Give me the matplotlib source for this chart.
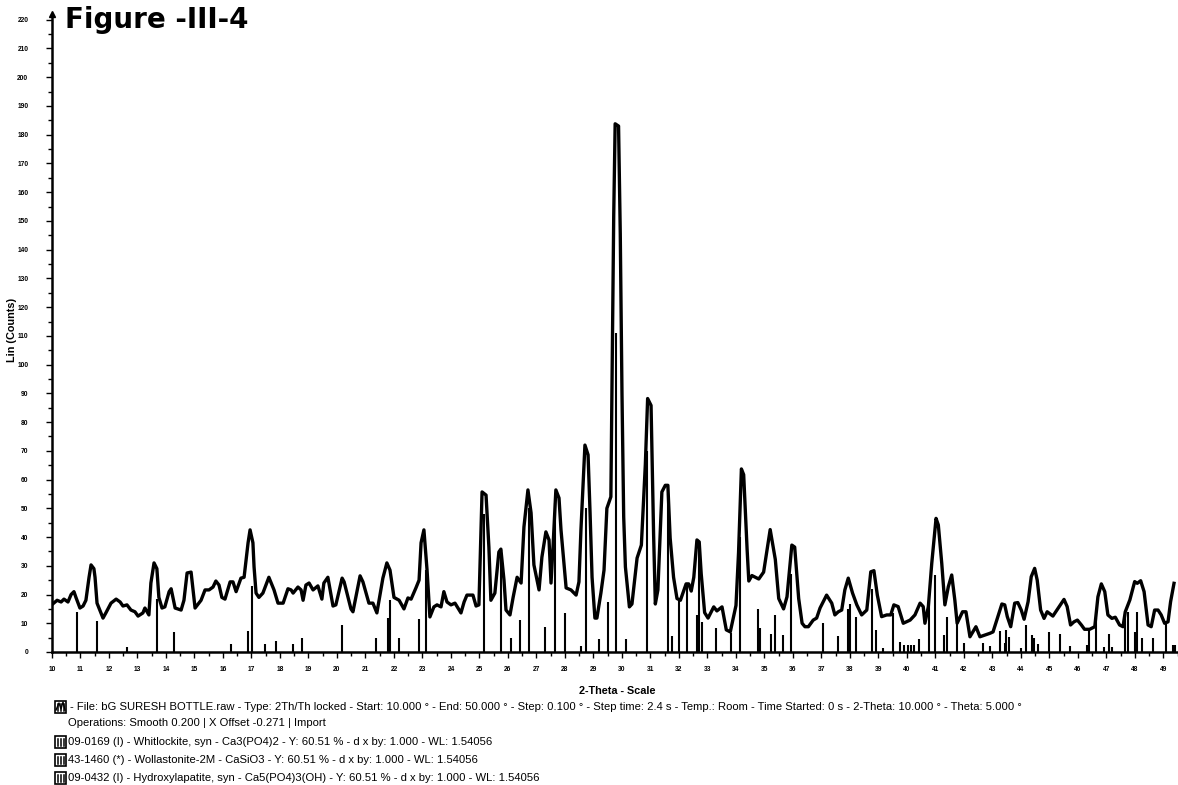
import numpy as np
import matplotlib
matplotlib.use('Agg')
import matplotlib.pyplot as plt
from matplotlib.patches import Rectangle

plt.rcParams['font.family'] = ['Liberation Sans', 'DejaVu Sans']

# measured pattern (2-theta in degrees, intensity in counts)
two_theta = [
    10.00, 10.18, 10.32, 10.42, 10.56, 10.67, 10.77, 10.84, 10.98, 11.09,
    11.19, 11.30, 11.37, 11.47, 11.51, 11.58, 11.79, 11.89, 12.07, 12.25,
    12.39, 12.49, 12.63, 12.77, 12.91, 13.02, 13.19, 13.26, 13.40, 13.47,
    13.58, 13.68, 13.75, 13.86, 13.96, 14.11, 14.18, 14.32, 14.53, 14.63,
    14.74, 14.88, 15.02, 15.23, 15.37, 15.51, 15.65, 15.75, 15.86, 15.96,
    16.07, 16.25, 16.35, 16.46, 16.63, 16.74, 16.88, 16.95, 17.05, 17.09,
    17.16, 17.26, 17.40, 17.61, 17.79, 17.93, 18.11, 18.28, 18.39, 18.46,
    18.63, 18.74, 18.81, 18.91, 19.02, 19.16, 19.33, 19.47, 19.54, 19.68,
    19.86, 19.96, 20.18, 20.25, 20.49, 20.56, 20.81, 20.91, 21.12, 21.26,
    21.40, 21.61, 21.75, 21.86, 22.00, 22.18, 22.35, 22.49, 22.60, 22.77,
    22.88, 22.95, 23.05, 23.16, 23.26, 23.40, 23.51, 23.65, 23.75, 23.86,
    24.00, 24.14, 24.35, 24.46, 24.56, 24.77, 24.88, 24.98, 25.09, 25.23,
    25.33, 25.40, 25.54, 25.68, 25.75, 25.86, 25.93, 26.07, 26.18, 26.32,
    26.46, 26.56, 26.70, 26.81, 26.91, 27.09, 27.19, 27.33, 27.44, 27.51,
    27.58, 27.68, 27.79, 27.86, 28.04, 28.21, 28.39, 28.49, 28.56, 28.70,
    28.81, 28.88, 28.95, 29.05, 29.12, 29.26, 29.37, 29.47, 29.61, 29.71,
    29.76, 29.88, 29.94, 30.00, 30.06, 30.12, 30.26, 30.35, 30.53, 30.68,
    30.82, 30.90, 31.02, 31.11, 31.17, 31.26, 31.40, 31.52, 31.61, 31.69,
    31.81, 31.93, 32.05, 32.16, 32.25, 32.34, 32.43, 32.52, 32.63, 32.71,
    32.78, 32.90, 33.02, 33.22, 33.33, 33.51, 33.66, 33.80, 34.00, 34.09,
    34.19, 34.27, 34.39, 34.45, 34.56, 34.80, 34.97, 35.20, 35.38, 35.50,
    35.67, 35.79, 35.96, 36.06, 36.20, 36.32, 36.42, 36.54, 36.71, 36.83,
    36.95, 37.18, 37.36, 37.47, 37.59, 37.71, 37.82, 37.94, 38.09, 38.24,
    38.41, 38.59, 38.73, 38.84, 38.96, 39.11, 39.29, 39.43, 39.54, 39.69,
    39.87, 40.11, 40.28, 40.46, 40.57, 40.63, 40.75, 40.87, 41.02, 41.10,
    41.22, 41.33, 41.45, 41.57, 41.68, 41.76, 41.95, 42.07, 42.21, 42.42,
    42.56, 42.74, 42.91, 43.02, 43.19, 43.33, 43.43, 43.52, 43.64, 43.78,
    43.89, 44.01, 44.11, 44.25, 44.36, 44.48, 44.57, 44.69, 44.81, 44.92,
    45.12, 45.30, 45.51, 45.62, 45.74, 45.86, 45.98, 46.12, 46.23, 46.41,
    46.59, 46.70, 46.82, 46.94, 47.05, 47.19, 47.31, 47.46, 47.58, 47.66,
    47.82, 47.99, 48.08, 48.20, 48.32, 48.46, 48.57, 48.69, 48.81, 48.92,
    49.04, 49.16, 49.25, 49.37,
]
counts = [
    16.5, 18.0, 17.4, 18.4, 17.4, 20.0, 21.0, 19.0, 15.3, 16.0,
    18.0, 26.0, 30.3, 29.0, 26.0, 17.0, 11.8, 13.6, 17.0, 18.4,
    17.4, 16.0, 16.4, 14.6, 14.0, 12.5, 13.6, 15.3, 12.9, 24.0,
    31.0, 29.0, 19.0, 15.3, 15.7, 21.0, 22.0, 15.3, 14.6, 18.0,
    27.5, 27.8, 15.3, 18.0, 21.6, 21.6, 22.6, 24.7, 23.3, 19.0,
    18.4, 24.4, 24.4, 21.0, 25.7, 26.0, 38.0, 42.5, 38.0, 29.6,
    20.5, 19.0, 20.5, 26.0, 21.6, 17.0, 17.0, 22.0, 21.6, 20.5,
    22.6, 21.6, 18.0, 23.3, 24.0, 21.6, 23.0, 18.4, 24.0, 26.0,
    16.0, 16.4, 25.7, 24.4, 15.0, 14.0, 26.5, 24.4, 17.0, 17.0,
    13.6, 25.7, 31.0, 28.5, 19.0, 18.0, 15.0, 18.8, 18.4, 22.3,
    25.0, 38.0, 42.5, 28.5, 12.2, 15.7, 16.4, 15.7, 21.0, 17.4,
    16.4, 17.0, 13.6, 17.4, 19.8, 19.8, 16.0, 16.4, 55.7, 54.6,
    36.5, 18.0, 20.5, 34.8, 35.8, 25.0, 14.6, 12.9, 19.0, 26.0,
    24.0, 43.5, 56.4, 48.4, 30.3, 21.6, 33.0, 41.8, 39.0, 24.0,
    36.5, 56.4, 53.6, 42.5, 22.3, 21.6, 19.8, 24.4, 42.5, 72.0,
    68.6, 48.4, 26.0, 11.8, 11.8, 20.5, 28.5, 50.0, 54.0, 151.7,
    183.8, 183.0, 145.5, 90.0, 47.0, 29.6, 15.7, 16.7, 32.7, 37.2,
    65.4, 88.2, 85.8, 40.7, 16.7, 21.6, 55.7, 58.0, 58.0, 39.7,
    26.0, 18.6, 18.0, 21.2, 23.7, 23.7, 21.2, 26.0, 39.0, 38.3,
    27.2, 13.7, 11.8, 15.7, 14.3, 15.7, 7.7, 7.0, 16.2, 34.6,
    63.7, 61.7, 35.8, 24.7, 26.6, 25.4, 27.8, 42.6, 32.2, 18.6,
    15.0, 19.2, 37.2, 36.5, 18.6, 10.0, 8.8, 8.8, 11.1, 11.8,
    15.3, 19.8, 17.0, 12.9, 14.0, 14.6, 21.6, 25.7, 20.5, 16.4,
    12.9, 14.6, 27.9, 28.3, 19.8, 12.3, 12.9, 12.9, 16.4, 15.8,
    10.0, 11.1, 12.9, 17.0, 15.8, 10.0, 15.8, 30.9, 46.5, 44.2,
    30.9, 16.4, 22.7, 26.8, 18.0, 10.0, 14.0, 14.0, 5.3, 8.8,
    5.3, 5.9, 6.5, 7.0, 12.3, 16.7, 16.4, 12.3, 8.8, 17.0,
    17.2, 14.6, 11.4, 17.5, 26.2, 29.1, 25.0, 14.6, 11.7, 14.0,
    12.5, 15.2, 18.3, 15.8, 9.4, 10.5, 11.1, 9.4, 7.9, 7.9,
    8.8, 19.2, 23.7, 21.0, 12.9, 11.7, 12.1, 9.4, 8.8, 14.0,
    18.1, 24.5, 23.9, 24.8, 21.0, 9.4, 8.8, 14.6, 14.6, 12.9,
    10.0, 10.5, 17.5, 23.9,
]

# reference pattern lines (whitlockite, wollastonite-2M, hydroxylapatite)
ref_2theta = [
    10.89, 11.57, 12.62, 13.67, 14.28, 16.29, 16.88, 17.02, 17.49, 17.86,
    18.47, 18.77, 20.18, 21.37, 21.78, 21.86, 22.16, 22.87, 23.11, 25.17,
    25.75, 26.10, 26.41, 26.75, 27.29, 27.66, 28.00, 28.55, 28.75, 29.19,
    29.51, 29.80, 30.14, 30.87, 31.60, 31.77, 32.00, 32.27, 32.63, 32.72,
    32.80, 33.29, 33.82, 34.13, 34.78, 34.84, 35.23, 35.37, 35.66, 35.93,
    37.06, 37.59, 37.94, 38.00, 38.21, 38.76, 38.91, 39.15, 39.50, 39.75,
    39.89, 40.02, 40.14, 40.25, 40.42, 40.78, 41.00, 41.31, 41.39, 41.74,
    42.01, 42.68, 42.93, 43.25, 43.43, 43.48, 43.57, 44.01, 44.19, 44.39,
    44.45, 44.60, 44.97, 45.36, 45.71, 46.33, 46.37, 46.64, 46.91, 47.08,
    47.19, 47.64, 47.75, 47.99, 48.06, 48.25, 48.63, 49.10, 49.35, 49.42,
]
ref_counts = [
    14.0, 10.9, 1.8, 18.3, 7.0, 2.8, 7.3, 23.0, 2.8, 3.8,
    2.8, 4.9, 9.4, 4.9, 11.8, 18.0, 4.9, 11.5, 28.5, 48.0,
    36.0, 4.9, 11.1, 50.0, 8.8, 52.0, 13.6, 2.0, 50.0, 4.5,
    17.5, 111.0, 4.5, 70.0, 55.0, 5.4, 18.0, 24.0, 13.0, 37.0,
    10.5, 8.3, 6.6, 40.0, 15.0, 8.3, 6.3, 12.9, 5.9, 27.0,
    10.2, 5.6, 15.0, 16.7, 12.3, 22.0, 7.7, 1.4, 13.6, 3.5,
    2.5, 2.5, 2.5, 2.5, 4.5, 18.0, 26.8, 5.9, 12.3, 10.0,
    3.3, 3.1, 2.1, 7.4, 3.0, 7.7, 5.1, 1.5, 9.4, 5.9,
    5.0, 2.8, 7.0, 6.3, 2.0, 2.4, 7.7, 11.7, 1.9, 6.3,
    1.7, 14.0, 14.0, 7.0, 14.0, 4.8, 4.8, 10.0, 2.5, 2.5,
]

x_labels = [str(v) for v in range(10, 50)]

legend_lines = [
    "- File: bG SURESH BOTTLE.raw - Type: 2Th/Th locked - Start: 10.000 \u00b0 - End: 50.000 \u00b0 - "
    "Step: 0.100 \u00b0 - Step time: 2.4 s - Temp.: Room - Time Started: 0 s - 2-Theta: 10.000 \u00b0 - Theta: 5.000 \u00b0",
    "Operations: Smooth 0.200 | X Offset -0.271 | Import",
    "09-0169 (I) - Whitlockite, syn - Ca3(PO4)2 - Y: 60.51 % - d x by: 1.000 - WL: 1.54056",
    "43-1460 (*) - Wollastonite-2M - CaSiO3 - Y: 60.51 % - d x by: 1.000 - WL: 1.54056",
    "09-0432 (I) - Hydroxylapatite, syn - Ca5(PO4)3(OH) - Y: 60.51 % - d x by: 1.000 - WL: 1.54056",
]

W, H = 1178, 785
fig = plt.figure(figsize=(W / 100, H / 100), dpi=100)
fig.patch.set_facecolor('white')
ax = fig.add_axes([52 / W, 133 / H, 1126 / W, 638 / H])

ax.vlines(ref_2theta, 0, ref_counts, color='black', lw=1.5)
ax.plot(two_theta, counts, color='black', lw=2.4, solid_joinstyle='round')

ax.set_xlim(10, 49.51)
ax.set_ylim(0, 222)

for side in ['top', 'right']:
    ax.spines[side].set_visible(False)
for side in ['left', 'bottom']:
    ax.spines[side].set_linewidth(1.8)
# small arrow head on top of the y axis
ax.plot([10], [222], marker='^', color='black', markersize=5, clip_on=False)

ax.set_xticks(np.arange(10, 50, 1))
ax.set_xticklabels(x_labels)
ax.set_xticks(np.arange(10, 49.6, 0.5), minor=True)
ax.set_yticks(np.arange(0, 221, 10))
ax.set_yticks(np.arange(0, 221, 5), minor=True)
ax.tick_params(axis='both', which='both', direction='out', width=1.0, colors='black')
ax.tick_params(axis='both', which='major', length=4, labelsize=4.8)
ax.tick_params(axis='both', which='minor', length=3)
ax.tick_params(axis='y', which='major', pad=13)
ax.tick_params(axis='x', which='major', pad=6)
for lab in ax.get_xticklabels() + ax.get_yticklabels():
    lab.set_fontweight('bold')

fig.text(617 / W, 1 - 691 / H, '2-Theta - Scale', ha='center', va='center',
         fontsize=7.8, fontweight='bold')
fig.text(12 / W, 1 - 330 / H, 'Lin (Counts)', ha='center', va='center',
         rotation=90, fontsize=7.8, fontweight='bold')
fig.text(65 / W, 1 - 6 / H, 'Figure -III-4', ha='left', va='top',
         fontsize=20, fontweight='bold', family='DejaVu Sans')

# legend block under the plot
text_y = [707, 723, 742, 760, 778]
text_x = [70, 68, 68, 68, 68]
for s, tx, ty in zip(legend_lines, text_x, text_y):
    fig.text(tx / W, 1 - ty / H, s, ha='left', va='center', fontsize=8.1)

for ty in [707, 742, 760, 778]:
    box = Rectangle((55 / W, 1 - (ty + 6) / H), 11 / W, 12 / H, transform=fig.transFigure,
                    facecolor='white', edgecolor='black', lw=1.2)
    fig.patches.append(box)
    for dx in [58, 61, 64]:
        fig.add_artist(plt.Line2D([dx / W, dx / W], [1 - (ty + 4) / H, 1 - (ty - 3) / H],
                                  transform=fig.transFigure, color='black', lw=1.1))
fig.add_artist(plt.Line2D([56 / W, 59 / W, 61 / W, 63 / W, 65 / W],
                          [1 - 710 / H, 1 - 703 / H, 1 - 709 / H, 1 - 702 / H, 1 - 710 / H],
                          transform=fig.transFigure, color='black', lw=1.0))

fig.savefig('out.png', dpi=100, facecolor='white')
